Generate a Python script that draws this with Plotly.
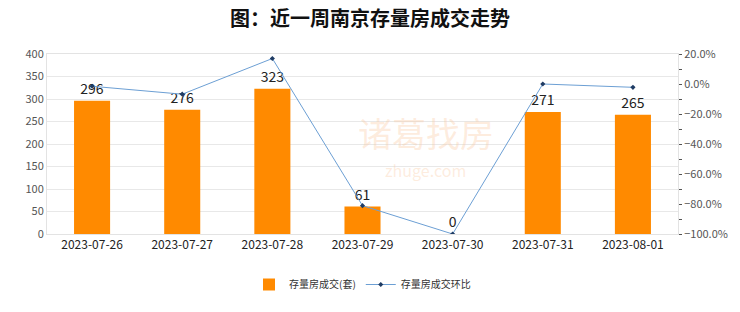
import plotly.graph_objects as go

dates = ["2023-07-26", "2023-07-27", "2023-07-28", "2023-07-29", "2023-07-30", "2023-07-31", "2023-08-01"]
volume = [296, 276, 323, 61, 0, 271, 265]
mom = [-1.5, -6.8, 17.0, -81.1, -100.0, 0.0, -2.2]

bar_name = "存量房成交(套)"
line_name = "存量房成交环比"
title = "<b>图：近一周南京存量房成交走势</b>"

font_family = "Noto Sans CJK SC, DejaVu Sans, sans-serif"

fig = go.Figure()
fig.add_trace(go.Bar(
    x=dates, y=volume, name=bar_name, width=0.4,
    marker=dict(color="#FF8A00", line=dict(width=0)),
    text=[str(v) for v in volume], textposition="outside",
    textfont=dict(size=14, color="#222222"), cliponaxis=False,
))
fig.add_trace(go.Scatter(
    x=dates, y=mom, name=line_name, yaxis="y2", mode="lines+markers",
    line=dict(color="#6C9FD4", width=1),
    marker=dict(symbol="diamond", size=4, color="#1F3C64"),
))

fig.add_annotation(text="诸葛找房", x=0.6, y=0.565, xref="paper", yref="paper",
                   showarrow=False,
                   font=dict(size=34, color="rgba(250,200,160,0.35)", family=font_family))
fig.add_annotation(text="zhuge.com", x=0.6, y=0.28, xref="paper", yref="paper",
                   showarrow=False,
                   font=dict(size=16, color="rgba(250,200,160,0.35)", family=font_family))

fig.update_layout(
    width=740, height=312,
    margin=dict(l=47, r=62, t=54, b=78),
    paper_bgcolor="white", plot_bgcolor="white",
    font=dict(family=font_family, size=11, color="#333333"),
    title=dict(text=title, x=0.5, xanchor="center", y=0.94, yanchor="middle",
               font=dict(size=20, color="#111111", family=font_family)),
    showlegend=True,
    legend=dict(orientation="h", x=0.5, xanchor="center", y=-0.2, yanchor="top",
                font=dict(size=10, color="#333333")),
    xaxis=dict(type="category", showgrid=False, showline=True, linecolor="#E3E3E3",
               mirror=True, tickfont=dict(size=12, color="#222222"), ticks=""),
    yaxis=dict(range=[0, 400], dtick=50, showgrid=True, gridcolor="#E8E8E8",
               showline=True, linecolor="#E3E3E3", mirror=True, zeroline=False,
               tickfont=dict(size=11, color="#555555")),
    yaxis2=dict(overlaying="y", side="right", range=[-100, 20], dtick=20,
                ticksuffix=".0%", showgrid=False, zeroline=False, showline=False,
                ticks="outside", ticklen=3, tickcolor="#555555",
                minor=dict(dtick=10, ticks="outside", ticklen=3, tickcolor="#555555"),
                tickfont=dict(size=11, color="#555555")),
    bargap=0.6,
)

fig.write_html("out.html")
